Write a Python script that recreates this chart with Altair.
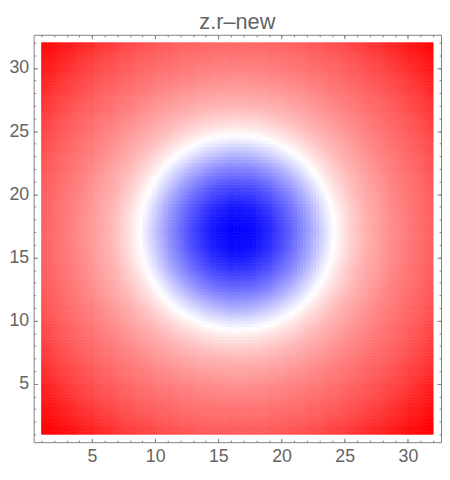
import altair as alt
import pandas as pd

title_text = "z.r\u2013new"
major_ticks = [5, 10, 15, 20, 25, 30]
minor_ticks = list(range(1, 33))

# values, top row (y = 32) first, columns x = 1..32
grid_rows = [
    [98, 95, 91, 87, 83, 79, 76, 72, 70, 67, 65, 63, 62, 61, 60, 60, 60, 60, 61, 62, 63, 65, 67, 70, 72, 76, 79, 83, 87, 91, 95, 98],
    [95, 91, 87, 82, 78, 74, 70, 67, 64, 62, 60, 58, 57, 56, 55, 55, 55, 55, 56, 57, 58, 60, 62, 64, 67, 70, 74, 78, 82, 87, 91, 95],
    [91, 87, 82, 77, 73, 69, 66, 63, 60, 58, 56, 54, 52, 51, 50, 50, 50, 50, 51, 52, 54, 56, 58, 60, 63, 66, 69, 73, 77, 82, 87, 91],
    [88, 83, 77, 73, 69, 65, 62, 59, 56, 53, 51, 49, 47, 45, 44, 43, 43, 44, 45, 47, 49, 51, 53, 56, 59, 62, 65, 69, 73, 77, 83, 88],
    [84, 78, 74, 69, 65, 61, 58, 54, 52, 48, 45, 42, 40, 38, 37, 36, 36, 37, 38, 40, 42, 45, 48, 52, 54, 58, 61, 65, 69, 74, 78, 84],
    [80, 75, 70, 65, 61, 58, 54, 51, 47, 42, 39, 36, 33, 31, 30, 29, 29, 30, 31, 33, 36, 39, 42, 47, 51, 54, 58, 61, 65, 70, 75, 80],
    [77, 71, 66, 62, 58, 54, 50, 46, 41, 37, 33, 29, 25, 22, 19, 18, 18, 19, 22, 25, 29, 33, 37, 41, 46, 50, 54, 58, 62, 66, 71, 77],
    [74, 68, 64, 59, 55, 51, 46, 41, 36, 31, 26, 20, 15, 10, 7, 5, 5, 7, 10, 15, 20, 26, 31, 36, 41, 46, 51, 55, 59, 64, 68, 74],
    [71, 66, 61, 57, 52, 47, 42, 36, 31, 24, 17, 9, 2, -5, -9, -12, -12, -9, -5, 2, 9, 17, 24, 31, 36, 42, 47, 52, 57, 61, 66, 71],
    [69, 63, 59, 54, 50, 44, 38, 32, 25, 16, 7, -4, -13, -22, -28, -32, -32, -28, -22, -13, -4, 7, 16, 25, 32, 38, 44, 50, 54, 59, 63, 69],
    [67, 62, 57, 52, 47, 40, 34, 27, 18, 8, -5, -18, -30, -39, -46, -49, -49, -46, -39, -30, -18, -5, 8, 18, 27, 34, 40, 47, 52, 57, 62, 67],
    [65, 60, 55, 51, 44, 38, 31, 22, 12, -1, -16, -32, -44, -55, -62, -65, -65, -62, -55, -44, -32, -16, -1, 12, 22, 31, 38, 44, 51, 55, 60, 65],
    [64, 59, 54, 49, 42, 35, 29, 18, 6, -9, -27, -43, -56, -67, -75, -79, -79, -75, -67, -56, -43, -27, -9, 6, 18, 29, 35, 42, 49, 54, 59, 64],
    [63, 58, 53, 48, 41, 34, 26, 14, 1, -16, -35, -51, -65, -77, -86, -91, -91, -86, -77, -65, -51, -35, -16, 1, 14, 26, 34, 41, 48, 53, 58, 63],
    [63, 58, 53, 47, 40, 33, 24, 12, -2, -20, -39, -56, -71, -84, -93, -97, -97, -93, -84, -71, -56, -39, -20, -2, 12, 24, 33, 40, 47, 53, 58, 63],
    [62, 58, 52, 46, 40, 33, 24, 12, -4, -22, -41, -58, -73, -86, -95, -99, -99, -95, -86, -73, -58, -41, -22, -4, 12, 24, 33, 40, 46, 52, 58, 62],
    [63, 58, 53, 47, 40, 33, 24, 12, -2, -20, -39, -56, -71, -84, -93, -97, -97, -93, -84, -71, -56, -39, -20, -2, 12, 24, 33, 40, 47, 53, 58, 63],
    [63, 58, 53, 48, 41, 34, 26, 14, 1, -16, -35, -51, -65, -77, -86, -91, -91, -86, -77, -65, -51, -35, -16, 1, 14, 26, 34, 41, 48, 53, 58, 63],
    [64, 59, 54, 49, 42, 35, 29, 18, 6, -9, -27, -43, -56, -67, -75, -79, -79, -75, -67, -56, -43, -27, -9, 6, 18, 29, 35, 42, 49, 54, 59, 64],
    [65, 60, 55, 51, 44, 38, 31, 22, 12, -1, -16, -32, -44, -55, -62, -65, -65, -62, -55, -44, -32, -16, -1, 12, 22, 31, 38, 44, 51, 55, 60, 65],
    [67, 62, 57, 52, 47, 40, 34, 27, 18, 8, -5, -18, -30, -39, -46, -49, -49, -46, -39, -30, -18, -5, 8, 18, 27, 34, 40, 47, 52, 57, 62, 67],
    [69, 63, 59, 54, 50, 44, 38, 32, 25, 16, 7, -4, -13, -22, -28, -32, -32, -28, -22, -13, -4, 7, 16, 25, 32, 38, 44, 50, 54, 59, 63, 69],
    [71, 66, 61, 57, 52, 47, 42, 36, 31, 24, 17, 9, 2, -5, -9, -12, -12, -9, -5, 2, 9, 17, 24, 31, 36, 42, 47, 52, 57, 61, 66, 71],
    [74, 68, 64, 59, 55, 51, 46, 41, 36, 31, 26, 20, 15, 10, 7, 5, 5, 7, 10, 15, 20, 26, 31, 36, 41, 46, 51, 55, 59, 64, 68, 74],
    [77, 71, 66, 62, 58, 54, 50, 46, 41, 37, 33, 29, 25, 22, 19, 18, 18, 19, 22, 25, 29, 33, 37, 41, 46, 50, 54, 58, 62, 66, 71, 77],
    [80, 75, 70, 65, 61, 58, 54, 51, 47, 42, 39, 36, 33, 31, 30, 29, 29, 30, 31, 33, 36, 39, 42, 47, 51, 54, 58, 61, 65, 70, 75, 80],
    [84, 78, 74, 69, 65, 61, 58, 54, 52, 48, 45, 42, 40, 38, 37, 36, 36, 37, 38, 40, 42, 45, 48, 52, 54, 58, 61, 65, 69, 74, 78, 84],
    [88, 83, 77, 73, 69, 65, 62, 59, 56, 53, 51, 49, 47, 45, 44, 43, 43, 44, 45, 47, 49, 51, 53, 56, 59, 62, 65, 69, 73, 77, 83, 88],
    [91, 87, 82, 77, 73, 69, 66, 63, 60, 58, 56, 54, 52, 51, 50, 50, 50, 50, 51, 52, 54, 56, 58, 60, 63, 66, 69, 73, 77, 82, 87, 91],
    [95, 91, 87, 82, 78, 74, 70, 67, 64, 62, 60, 58, 57, 56, 55, 55, 55, 55, 56, 57, 58, 60, 62, 64, 67, 70, 74, 78, 82, 87, 91, 95],
    [98, 95, 91, 87, 83, 79, 76, 72, 70, 67, 65, 63, 62, 61, 60, 60, 60, 60, 61, 62, 63, 65, 67, 70, 72, 76, 79, 83, 87, 91, 95, 98],
    [100, 98, 96, 92, 88, 85, 81, 78, 75, 73, 70, 69, 67, 66, 65, 65, 65, 65, 66, 67, 69, 70, 73, 75, 78, 81, 85, 88, 92, 96, 98, 100],
]

n_rows = len(grid_rows)
n_cols = len(grid_rows[0])
records = []
for r_idx, row in enumerate(grid_rows):
    for c_idx, v in enumerate(row):
        col, rw = c_idx + 1, n_rows - r_idx
        records.append({"key": col * 100 + rw, "v": v})

# the grid is shown as a smoothly (bilinearly) shaded density image, as in the original
SUB = 4                       # sub-cells per grid unit
NX = (n_cols - 1) * SUB
NY = (n_rows - 1) * SUB
STEP = 1.0 / SUB

W, H = 413, 413
DOM = [0.38, 32.62]
FRAME = "#808080"
TXT = "#646464"
FONT = "Liberation Sans"

xs = alt.Scale(domain=DOM, nice=False, zero=False)
ys = alt.Scale(domain=DOM, nice=False, zero=False)
cscale = alt.Scale(domain=[-100, 0, 100], range=["#0000ff", "#ffffff", "#ff0000"], interpolate="rgb")

lookup_src = alt.InlineData(values=records)


def corner():
    return alt.LookupData(data=lookup_src, key="key", fields=["v"])


heat = alt.Chart(alt.sequence(0, NX * NY, as_="idx")).transform_calculate(
    gx=f"datum.idx % {NX}",
    gy=f"floor(datum.idx / {NX})",
).transform_calculate(
    x0=f"1 + datum.gx * {STEP}",
    x1=f"1 + (datum.gx + 1) * {STEP}",
    y0=f"1 + datum.gy * {STEP}",
    y1=f"1 + (datum.gy + 1) * {STEP}",
    cx=f"1 + (datum.gx + 0.5) * {STEP}",
    cy=f"1 + (datum.gy + 0.5) * {STEP}",
).transform_calculate(
    i0="floor(datum.cx)",
    j0="floor(datum.cy)",
).transform_calculate(
    fx="datum.cx - datum.i0",
    fy="datum.cy - datum.j0",
    k00="datum.i0 * 100 + datum.j0",
    k10="(datum.i0 + 1) * 100 + datum.j0",
    k01="datum.i0 * 100 + datum.j0 + 1",
    k11="(datum.i0 + 1) * 100 + datum.j0 + 1",
).transform_lookup(
    lookup="k00", from_=corner(), as_=["v00"]
).transform_lookup(
    lookup="k10", from_=corner(), as_=["v10"]
).transform_lookup(
    lookup="k01", from_=corner(), as_=["v01"]
).transform_lookup(
    lookup="k11", from_=corner(), as_=["v11"]
).transform_calculate(
    v="datum.v00*(1-datum.fx)*(1-datum.fy) + datum.v10*datum.fx*(1-datum.fy)"
      " + datum.v01*(1-datum.fx)*datum.fy + datum.v11*datum.fx*datum.fy",
).mark_rect(strokeWidth=0.6).encode(
    x=alt.X("x0:Q", scale=xs, axis=alt.Axis(
        orient="bottom", values=major_ticks, ticks=False, tickSize=0, labelPadding=6,
        domainColor=FRAME, labelColor=TXT, labelFontSize=18, labelFont=FONT,
        grid=False, title=None, zindex=1)),
    x2="x1:Q",
    y=alt.Y("y0:Q", scale=ys, axis=alt.Axis(
        orient="left", values=major_ticks, ticks=False, tickSize=0, labelPadding=5,
        domainColor=FRAME, labelColor=TXT, labelFontSize=18, labelFont=FONT,
        grid=False, title=None, zindex=1)),
    y2="y1:Q",
    color=alt.Color("v:Q", scale=cscale, legend=None),
    stroke=alt.Stroke("v:Q", scale=cscale, legend=None),
)

anchor_df = pd.DataFrame({"x": [16.5], "y": [16.5]})


def tick_layer(x_orient, y_orient, size, values, show_domain):
    common = dict(labels=False, ticks=True, tickSize=size, tickColor=FRAME,
                  domain=show_domain, domainColor=FRAME, grid=False, title=None,
                  values=values, zindex=2)
    return alt.Chart(anchor_df).mark_point(opacity=0).encode(
        x=alt.X("x:Q", scale=xs, axis=alt.Axis(orient=x_orient, offset=-H, **common)),
        y=alt.Y("y:Q", scale=ys, axis=alt.Axis(orient=y_orient, offset=-W, **common)),
    )


chart = alt.layer(
    heat,
    tick_layer("bottom", "left", 4, major_ticks, True),
    tick_layer("bottom", "left", 2, minor_ticks, False),
    tick_layer("top", "right", 4, major_ticks, False),
    tick_layer("top", "right", 2, minor_ticks, False),
).resolve_axis(x="independent", y="independent").properties(
    width=W, height=H,
    padding={"left": 0, "top": 0, "right": 0, "bottom": 0},
    title=alt.Title(title_text, fontSize=22, font=FONT, color=TXT,
                    fontWeight="normal", offset=0, anchor="middle"),
).configure_view(stroke=None)

chart.save("out.html", embed_options={"renderer": "svg", "actions": False})
